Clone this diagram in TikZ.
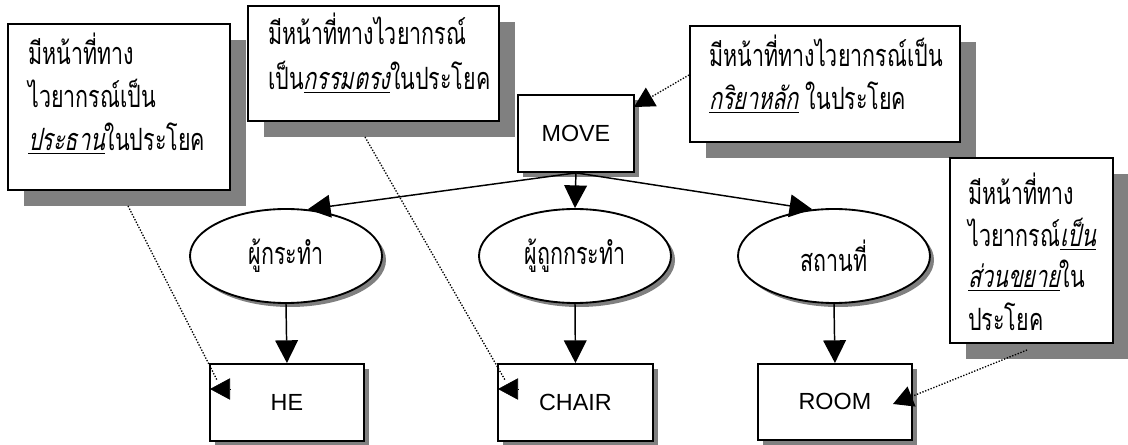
\documentclass[tikz,border=0pt]{standalone}
\usepackage{fontspec}
\setmainfont{Liberation Sans}
\newfontfamily\thai[Script=Thai,FakeStretch=0.7]{Loma}
\newfontfamily\thaisl[Script=Thai,FakeStretch=0.7,FakeSlant=0.2]{Loma}
\usetikzlibrary{arrows.meta,shapes.geometric,shadows}
\definecolor{shade}{RGB}{128,128,128}
\newcommand{\keyword}[1]{\underline{\thaisl #1}}
\begin{document}
\begin{tikzpicture}[x=0.75pt,y=-0.75pt,
  callout/.style={draw,line width=1.4pt,fill=white,anchor=north west,inner sep=0pt,
    drop shadow={shadow xshift=12pt,shadow yshift=-12pt,fill=shade,opacity=1}},
  wordbox/.style={draw,line width=1.4pt,fill=white,anchor=north west,inner sep=0pt,
    drop shadow={shadow xshift=4pt,shadow yshift=-4pt,fill=shade,opacity=1}},
  word/.style={font=\fontsize{17.5}{17.5}\selectfont},
  role/.style={ellipse,draw,line width=1.4pt,fill=white,inner sep=0pt,
    minimum width=144pt,minimum height=70.5pt,
    font=\thai\fontsize{23}{23}\selectfont,
    drop shadow={shadow xshift=3pt,shadow yshift=-3pt,fill=shade,opacity=1}},
  note/.style={anchor=base west,inner sep=0pt,font=\thai\fontsize{23}{23}\selectfont},
  link/.style={line width=1.1pt,-{Triangle[length=17pt,width=17pt]}},
  pointer/.style={line width=1pt,dash pattern=on 1pt off 1.2pt},
  pointtip/.style={-{Triangle[length=15pt,width=16pt]}}
]
\useasboundingbox (0,0) rectangle (1128,445);

% callout boxes
\node[callout,minimum width=166.5pt,minimum height=124.5pt] (c1) at (7,23) {};
\node[callout,minimum width=188.25pt,minimum height=86.25pt] (c2) at (247,5) {};
\node[callout,minimum width=202.5pt,minimum height=87pt] (c3) at (689,25) {};
\node[callout,minimum width=122.25pt,minimum height=138.75pt] (c4) at (949,157) {};

\node[note] (c1a) at (28,65) {มีหน้าที่ทาง};
\node[note] (c1b) at (28,108) {ไวยากรณ์เป็น};
\node[note] (c1c) at (28,151) {\keyword{ประธาน}ในประโยค};

\node[note] (c2a) at (268,45) {มีหน้าที่ทางไวยากรณ์};
\node[note] (c2b) at (268,90) {เป็น\keyword{กรรมตรง}ในประโยค};

\node[note] (c3a) at (709,67) {มีหน้าที่ทางไวยากรณ์เป็น};
\node[note] (c3b) at (709,110) {\keyword{กริยาหลัก} ในประโยค};

\node[note] (c4a) at (968,205) {มีหน้าที่ทาง};
\node[note] (c4b) at (968,247) {ไวยากรณ์\keyword{เป็น}};
\node[note] (c4c) at (968,288) {\keyword{ส่วนขยาย}ใน};
\node[note] (c4d) at (968,330) {ประโยค};

% word boxes
\node[wordbox,minimum width=87pt,minimum height=57.75pt] (move) at (517,94) {};
\node[word] at (move.center) {MOVE};
\node[wordbox,minimum width=115.5pt,minimum height=57.75pt] (he) at (209,363) {};
\node[word] at (he.center) {HE};
\node[wordbox,minimum width=116.25pt,minimum height=57.75pt] (chair) at (497,363) {};
\node[word] at (chair.center) {CHAIR};
\node[wordbox,minimum width=115.5pt,minimum height=57pt] (room) at (757,363) {};
\node[word] at (room.center) {ROOM};

% semantic roles
\node[role] (agent) at (286,256) {ผู้กระทำ};
\node[role] (patient) at (575,256) {ผู้ถูกกระทำ};
\node[role] (place) at (834,256) {สถานที่};

% tree connectors
\draw[link] (move.south) -- (agent.65);
\draw[link] (move.south) -- (patient.north);
\draw[link] (move.south) -- (place.115);
\draw[link] (agent.south) -- (he.north);
\draw[link] (patient.south) -- (chair.north);
\draw[link] (place.south) -- (room.north);

% dotted pointers from the callouts
\coordinate (t1) at (128,206);
\coordinate (t2) at (365,137);
\coordinate (t3) at (689,75);
\coordinate (t4) at (1027,350);
\coordinate (h1) at (217,380);
\coordinate (h2) at (505,380);
\coordinate (m3) at (634,107);
\coordinate (r4) at (893,404);

\draw[pointer] (t1) -- (h1);
\draw[pointtip] (230,389) -- (210,389);
\draw[pointer] (t2) -- (h2);
\draw[pointtip] (518,389) -- (498,389);
\draw[pointer,pointtip] (t3) -- (m3);
\draw[pointer,pointtip] (t4) -- (r4);
\end{tikzpicture}
\end{document}
